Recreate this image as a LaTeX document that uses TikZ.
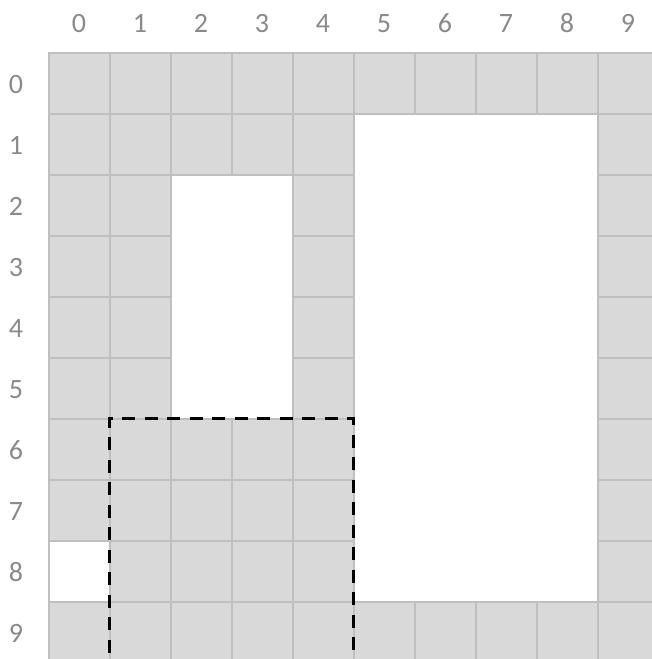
\documentclass[tikz,border=0pt]{standalone}
\usepackage{fontspec}
\setmainfont{Carlito}
\definecolor{cellgray}{HTML}{D9D9D9}
\definecolor{linegray}{HTML}{BFBFBF}
\definecolor{labgray}{HTML}{8A8A8A}
\begin{document}
\begin{tikzpicture}[x=1pt,y=-1pt,
  cellg/.style={fill=cellgray,draw=linegray,line width=2pt},
  cellw/.style={fill=white,draw=linegray,line width=2pt},
  lab/.style={text=labgray,font=\fontsize{28}{32}\selectfont,inner sep=0pt,anchor=base},
  dashbox/.style={draw=black,line width=3pt,dash pattern=on 13pt off 9.5pt}]
\useasboundingbox (0,0) rectangle (652,659);
\begin{scope}
\clip (0,0) rectangle (652,659);
\foreach \r in {0,...,9}{
  \foreach \c in {0,...,9}{
    \pgfmathtruncatemacro\w{((\r>1)&&(\r<6)&&(\c>1)&&(\c<4)) || ((\r>0)&&(\r<9)&&(\c>4)&&(\c<9)) || ((\r==8)&&(\c==0))}
    \ifnum\w=0
      \pgfmathsetmacro\xa{48.5+61*\c}
      \pgfmathsetmacro\ya{52.5+61*\r}
      \draw[cellg] (\xa,\ya) rectangle ++(61,61);
    \fi
  }
}
\draw[cellw] (48.5,540.5) rectangle ++(61,61);
\coordinate (d1) at (109.3,675);
\coordinate (d2) at (109.3,418);
\coordinate (d3) at (353,418);
\coordinate (d4) at (353,675);
\draw[dashbox] (d1) -- (d2) -- (d3) -- (d4);
\end{scope}
\foreach \i in {0,...,9}{
  \node[lab] (col\i) at ({79+61*\i},32.5) {\i};
  \node[lab] (row\i) at (16,{93+61*\i}) {\i};
}
\end{tikzpicture}
\end{document}
